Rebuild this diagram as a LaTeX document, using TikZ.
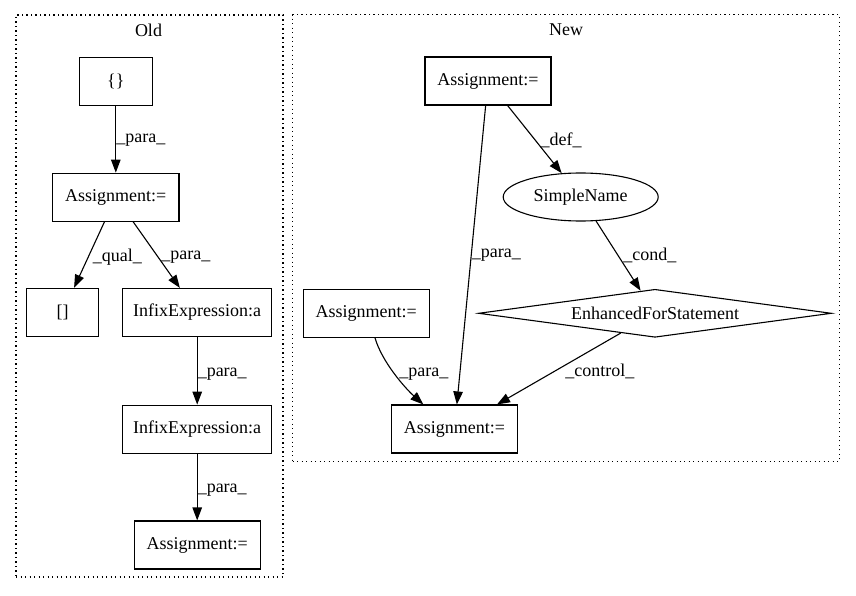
\documentclass[tikz,border=0pt]{standalone}
\usepackage{fontspec}
\setmainfont{Liberation Serif}
\usetikzlibrary{arrows.meta,shapes.geometric}
\begin{document}
\begin{tikzpicture}[x=1pt,y=-1pt,
  txt/.style={font=\fontsize{18}{21}\selectfont},
  box/.style={txt, draw, line width=1.1pt, rectangle, inner sep=0pt, minimum height=48pt},
  ell/.style={txt, draw, line width=1.1pt, ellipse, inner sep=0pt, minimum width=155pt, minimum height=48pt},
  dia/.style={txt, draw, line width=1.1pt, diamond, inner sep=0pt, aspect=7.3, minimum width=353pt, minimum height=48pt},
  cluster/.style={draw, line width=1.1pt, dash pattern=on 1.2pt off 3.3pt, inner sep=0pt},
  edge/.style={line width=1.1pt, -{Triangle[length=13pt,width=9.5pt]}},
  lbl/.style={txt, anchor=west, inner sep=0pt}
]
\useasboundingbox (0,0) rectangle (856,596);
% clusters
\node[cluster, minimum width=267pt, minimum height=562pt] (cold) at (149.5,296) {};
\node[txt] (told) at (148.5,30) {Old};
\node[cluster, minimum width=546.6pt, minimum height=446.7pt] (cnew) at (566,238.3) {};
\node[txt] (tnew) at (566,30) {New};
% Old nodes
\node[box, minimum width=73pt] (br) at (115.8,81.2) {\{\}};
\node[box, minimum width=126.3pt] (a1) at (115.8,197.2) {Assignment:=};
\node[box, minimum width=72pt, minimum height=48.4pt] (sq) at (62.7,312.5) {[]};
\node[box, minimum width=149pt] (in1) at (197.2,312.5) {InfixExpression:a};
\node[box, minimum width=149pt] (in2) at (197.2,429.2) {InfixExpression:a};
\node[box, minimum width=125.7pt] (a2) at (197.2,545) {Assignment:=};
% New nodes
\node[box, minimum width=126pt] (at) at (488,81) {Assignment:=};
\node[ell] (sn) at (580.7,197) {SimpleName};
\node[dia] (ef) at (655,313.3) {EnhancedForStatement};
\node[box, minimum width=126pt] (al) at (366.3,313.3) {Assignment:=};
\node[box, minimum width=126pt] (ab) at (454.5,429) {Assignment:=};
% Old edges
\draw[edge] (br) -- node[lbl, pos=0.51] {\_para\_} (a1);
\draw[edge] (a1) -- node[lbl, pos=0.53, xshift=4pt] {\_qual\_} (sq);
\draw[edge] (a1) -- node[lbl, pos=0.53, xshift=3pt] {\_para\_} (in1);
\draw[edge] (in1) -- node[lbl, pos=0.55] {\_para\_} (in2);
\draw[edge] (in2) -- node[lbl, pos=0.55] {\_para\_} (a2);
% New edges
\draw[edge] (at) -- node[lbl, pos=0.5] {\_para\_} (ab);
\draw[edge] (at) -- node[lbl, pos=0.51, xshift=5pt] {\_def\_} (sn);
\draw[edge] (sn) -- node[lbl, pos=0.49, xshift=5pt] {\_cond\_} (ef);
\draw[edge] (ef) -- node[lbl, pos=0.54, xshift=11pt] {\_control\_} (ab);
\draw[edge] ([xshift=8.7pt]al.south) .. controls (382,362) and (405,388) .. node[lbl, pos=0.5, xshift=4pt] {\_para\_} ([xshift=-31.2pt]ab.north);
\end{tikzpicture}
\end{document}
